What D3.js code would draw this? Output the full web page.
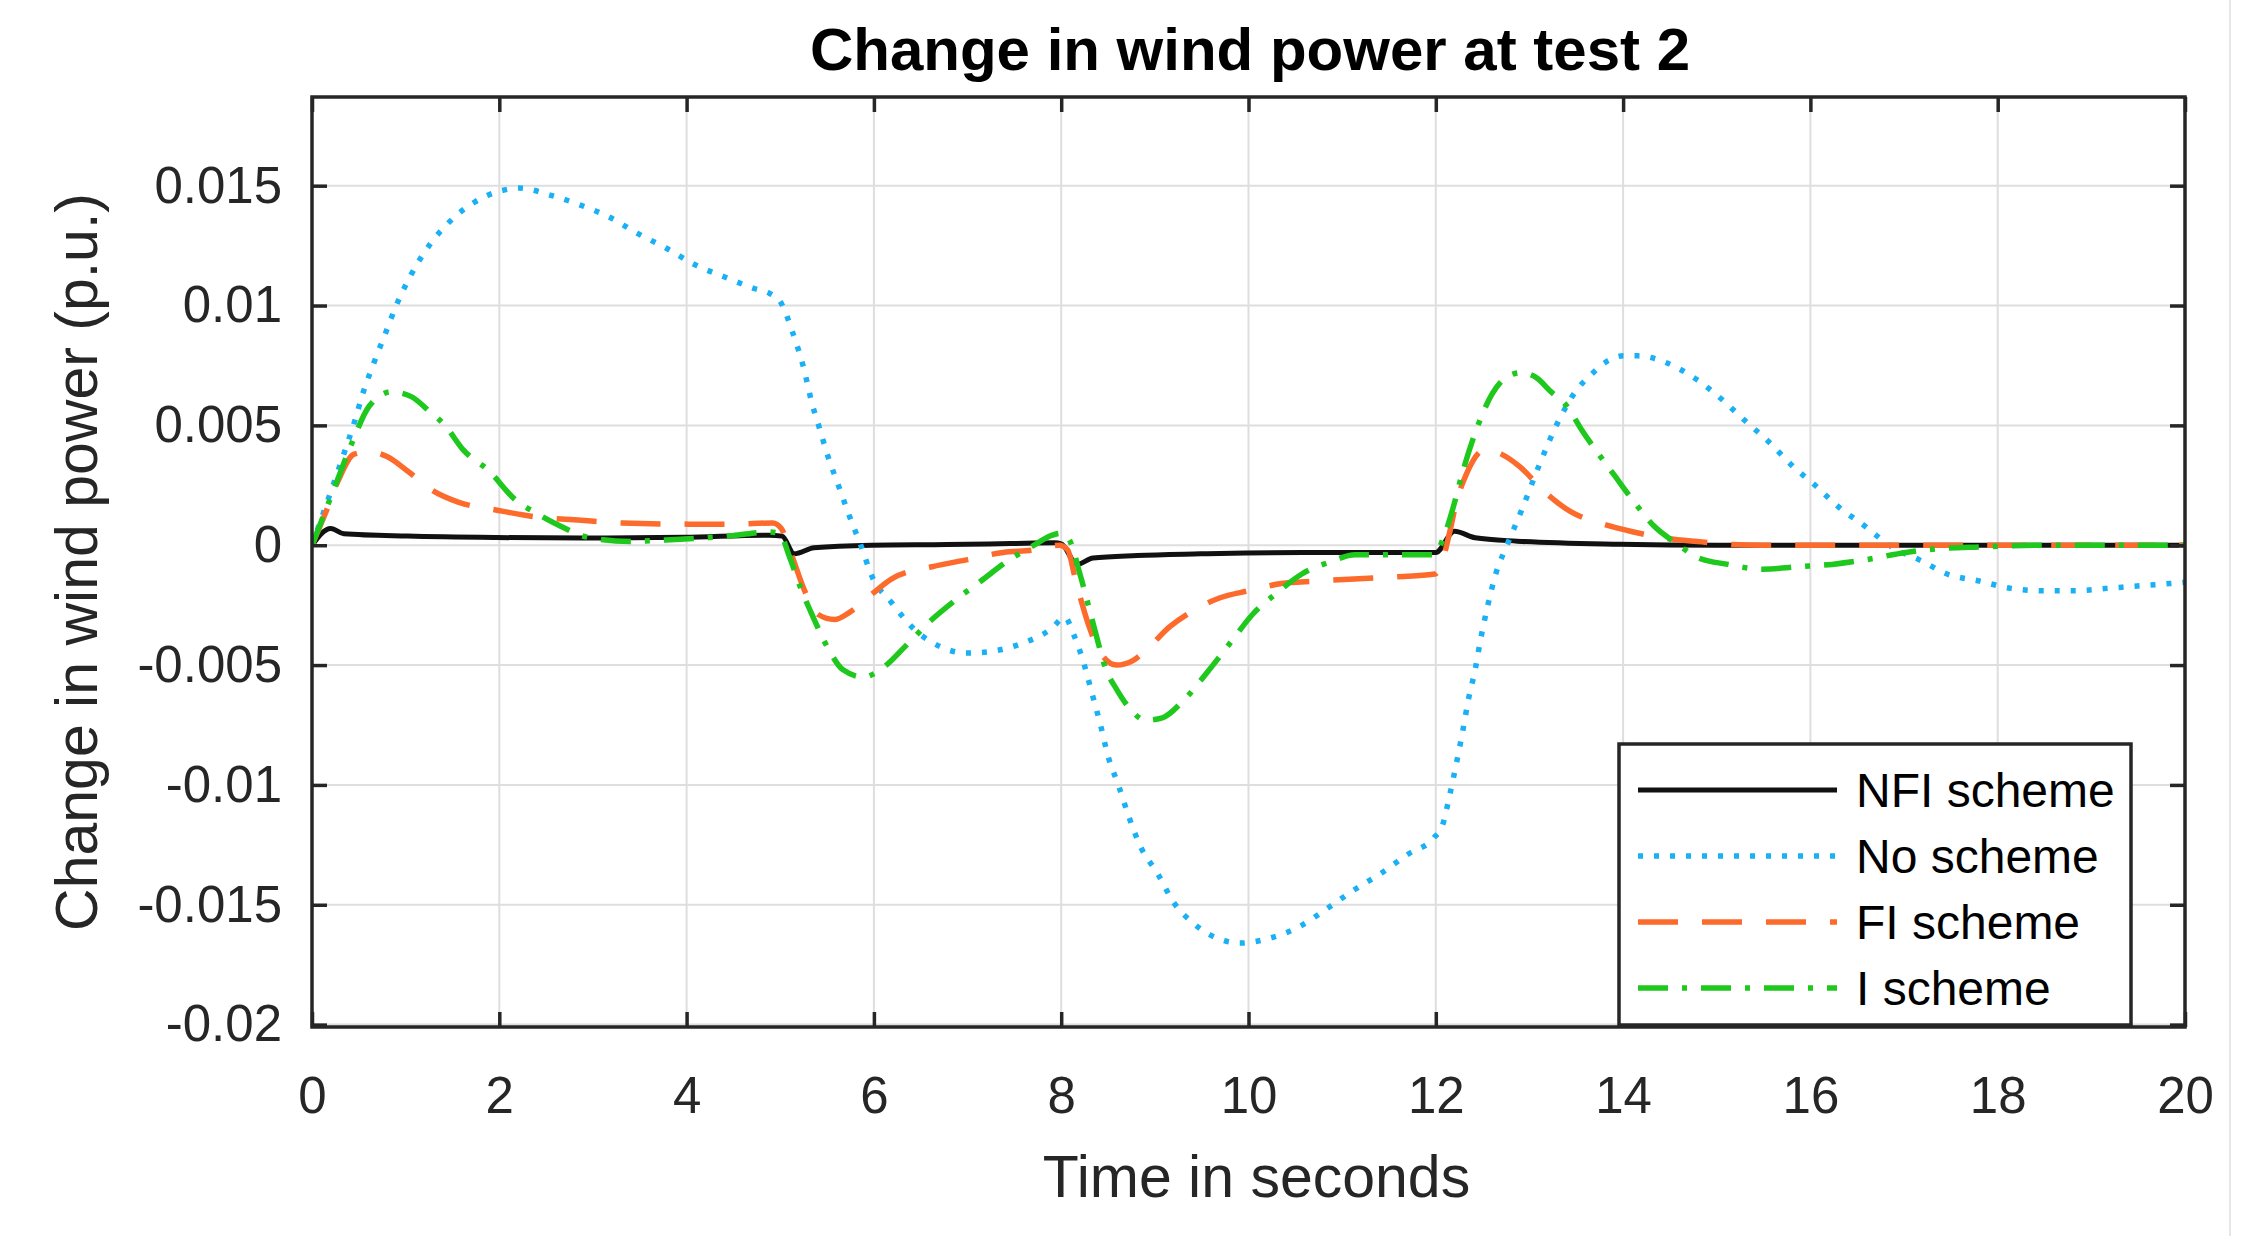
<!DOCTYPE html>
<html>
<head>
<meta charset="utf-8">
<script src="https://cdn.jsdelivr.net/npm/d3@7"></script>
<style>
  html, body { margin: 0; padding: 0; background: #fff; }
  svg { display: block; font-family: "Liberation Sans", Arial, Helvetica, sans-serif; }
</style>
</head>
<body>
<svg id="chart" width="2247" height="1236"></svg>
<script>
// ---------------- DATA ----------------
const chartTitle = "Change in wind power at test 2";
const xLabel = "Time in seconds";
const yLabel = "Change in wind power (p.u.)";

const xTicks = [0, 2, 4, 6, 8, 10, 12, 14, 16, 18, 20];
const xTickLabels = ["0", "2", "4", "6", "8", "10", "12", "14", "16", "18", "20"];
const yTicks = [0.015, 0.01, 0.005, 0, -0.005, -0.01, -0.015, -0.02];
const yTickLabels = ["0.015", "0.01", "0.005", "0", "-0.005", "-0.01", "-0.015", "-0.02"];

const seriesNames = ["NFI scheme", "No scheme", "FI scheme", "I scheme"];

// [time (s), change in wind power (p.u.)]
const nfiScheme = [[0,0],[0.2,0.0007],[0.34,0.00048],[1.02,0.00038],[1.97,0.00032],[2.98,0.0003],[3.97,0.00033],[4.88,0.00042],[5.02,0.00038],[5.15,-0.00036],[5.36,-0.00011],[5.97,0],[6.78,0.00003],[7.46,0.00007],[7.93,0.0001],[8.0,0.00006],[8.17,-0.0008],[8.34,-0.00053],[8.81,-0.00043],[9.49,-0.00036],[9.97,-0.00032],[10.58,-0.0003],[11.3,-0.0003],[12.0,-0.0003],[12.2,0.00058],[12.42,0.00031],[12.87,0.00017],[13.97,0.00004],[15,0],[20,0]];

const noScheme = [[0,0],[0.33,0.0037],[0.45,0.0051],[0.54,0.0063],[0.66,0.0076],[0.78,0.0088],[0.91,0.0101],[1.06,0.0113],[1.25,0.0125],[1.47,0.0135],[1.73,0.0143],[2.03,0.0148],[2.21,0.0149],[2.55,0.0146],[2.86,0.0142],[3.17,0.0137],[3.48,0.0130],[3.78,0.0124],[4.09,0.0117],[4.40,0.0112],[4.73,0.0107],[4.89,0.0105],[5.01,0.0101],[5.13,0.0089],[5.25,0.0074],[5.34,0.0059],[5.41,0.0050],[5.51,0.0037],[5.63,0.0024],[5.74,0.0012],[5.86,0],[5.98,-0.0013],[6.19,-0.0024],[6.43,-0.0035],[6.69,-0.0042],[7.0,-0.0045],[7.3,-0.0044],[7.58,-0.0041],[7.89,-0.0035],[8.04,-0.0030],[8.13,-0.0037],[8.24,-0.0049],[8.33,-0.0062],[8.42,-0.0075],[8.5,-0.0088],[8.61,-0.0100],[8.72,-0.0113],[8.85,-0.0126],[9.03,-0.0137],[9.2,-0.0149],[9.42,-0.0158],[9.74,-0.0165],[9.91,-0.0166],[10.22,-0.0164],[10.55,-0.0159],[10.86,-0.0151],[11.12,-0.0144],[11.41,-0.0137],[11.7,-0.0129],[11.98,-0.0122],[12.07,-0.0117],[12.15,-0.0104],[12.22,-0.0091],[12.29,-0.0077],[12.35,-0.0064],[12.42,-0.0052],[12.48,-0.0039],[12.55,-0.0026],[12.64,-0.0012],[12.76,0],[12.91,0.0014],[13.1,0.0033],[13.3,0.0051],[13.49,0.0064],[13.68,0.0072],[13.84,0.0077],[14.0,0.0079],[14.16,0.0079],[14.47,0.0076],[14.79,0.0069],[15.05,0.0061],[15.3,0.0052],[15.56,0.0043],[15.81,0.0033],[16.05,0.0025],[16.3,0.0016],[16.58,0.0008],[16.74,0.0003],[16.88,-0.0001],[17.16,-0.0006],[17.46,-0.0012],[17.81,-0.0015],[18.14,-0.0018],[18.49,-0.0019],[18.81,-0.0019],[19.16,-0.0018],[19.49,-0.0017],[19.84,-0.0016],[20,-0.00155]];

const fiScheme = [[0,0],[0.14,0.0013],[0.28,0.0027],[0.45,0.0038],[0.61,0.0039],[0.8,0.0037],[1.02,0.0031],[1.28,0.0023],[1.56,0.0018],[1.99,0.00145],[2.36,0.0012],[2.84,0.00105],[3.31,0.00093],[4.02,0.00088],[4.49,0.00088],[4.92,0.00093],[5.01,0.0007],[5.13,-0.0005],[5.25,-0.0018],[5.41,-0.0029],[5.58,-0.0031],[5.74,-0.0028],[5.96,-0.0021],[6.19,-0.0014],[6.62,-0.0009],[7.0,-0.0006],[7.38,-0.0003],[7.71,-0.0002],[7.98,0],[8.07,-0.0002],[8.15,-0.0014],[8.29,-0.0033],[8.42,-0.0045],[8.59,-0.0050],[8.77,-0.0048],[8.95,-0.0042],[9.16,-0.0034],[9.38,-0.0028],[9.69,-0.0022],[10.0,-0.0019],[10.35,-0.0016],[10.7,-0.0015],[11.18,-0.0014],[11.66,-0.0013],[11.99,-0.0012],[12.05,-0.0009],[12.14,0.0004],[12.22,0.0018],[12.33,0.0030],[12.53,0.0040],[12.7,0.0038],[12.89,0.0033],[13.17,0.0022],[13.44,0.0014],[13.77,0.0009],[14.1,0.00056],[14.47,0.00028],[14.84,0.00014],[15.12,0.00004],[15.5,0],[20,0]];

const iScheme = [[0,0],[0.24,0.0024],[0.43,0.0043],[0.61,0.0058],[0.85,0.0064],[1.06,0.0062],[1.25,0.0056],[1.42,0.0050],[1.61,0.0040],[1.89,0.0031],[2.17,0.0019],[2.41,0.0013],[2.65,0.0008],[2.98,0.0003],[3.4,0.00016],[3.78,0.00022],[4.16,0.0003],[4.49,0.0004],[4.87,0.00055],[4.99,0.0005],[5.1,-0.0005],[5.22,-0.0018],[5.34,-0.0029],[5.51,-0.0043],[5.67,-0.0052],[5.89,-0.0055],[6.1,-0.0051],[6.34,-0.0042],[6.62,-0.0031],[6.9,-0.0022],[7.14,-0.0015],[7.45,-0.0006],[7.71,0],[7.89,0.0004],[8.0,0.0005],[8.09,0.0002],[8.2,-0.0012],[8.35,-0.0034],[8.48,-0.0052],[8.59,-0.0060],[8.73,-0.0068],[8.9,-0.0073],[9.08,-0.0072],[9.3,-0.0065],[9.56,-0.0053],[9.82,-0.0040],[10.04,-0.0029],[10.3,-0.0020],[10.57,-0.0012],[10.87,-0.0007],[11.14,-0.0004],[11.58,-0.0004],[11.98,-0.0004],[12.09,0.0004],[12.18,0.0015],[12.29,0.0031],[12.45,0.0050],[12.6,0.0063],[12.75,0.0070],[12.91,0.0072],[13.07,0.0070],[13.23,0.0064],[13.4,0.0058],[13.56,0.0048],[13.72,0.0039],[13.91,0.0029],[14.1,0.0019],[14.33,0.0008],[14.56,0.0001],[14.79,-0.0005],[15.12,-0.0008],[15.49,-0.0010],[15.86,-0.0009],[16.23,-0.0008],[16.6,-0.0006],[17.02,-0.0003],[17.35,-0.00015],[17.81,-0.00007],[18.5,0],[20,0]];

// ---------------- LAYOUT / STYLE ----------------
const W = 2247, H = 1236;
const plot = { left: 312, right: 2185, top: 97, bottom: 1027 };
const xDomain = [0, 20];
const yDomain = [-0.0201, 0.0187];

const styles = [
  { color: "#111111", width: 5, dash: null, cap: "butt" },
  { color: "#1ab0f5", width: 5.5, dash: "5 11", cap: "butt" },
  { color: "#fc6a2c", width: 5.5, dash: "40 24", cap: "butt" },
  { color: "#1fc81c", width: 5.5, dash: "30 14 5 14", cap: "butt" }
];
const seriesData = [nfiScheme, noScheme, fiScheme, iScheme];

const svg = d3.select("#chart");
svg.append("rect").attr("width", W).attr("height", H).attr("fill", "#fff");

// faint image border line at the right
svg.append("line").attr("x1", 2230).attr("x2", 2230).attr("y1", 0).attr("y2", H)
  .attr("stroke", "#e6e6e6").attr("stroke-width", 2);

const x = d3.scaleLinear().domain(xDomain).range([plot.left, plot.right]);
const y = d3.scaleLinear().domain(yDomain).range([plot.bottom, plot.top]);

// grid
const grid = svg.append("g");
grid.selectAll("line.gx").data(xTicks.slice(1, -1)).enter().append("line")
  .attr("x1", d => x(d)).attr("x2", d => x(d))
  .attr("y1", plot.top).attr("y2", plot.bottom)
  .attr("stroke", "#dedede").attr("stroke-width", 2);
grid.selectAll("line.gy").data(yTicks).enter().append("line")
  .attr("x1", plot.left).attr("x2", plot.right)
  .attr("y1", d => y(d)).attr("y2", d => y(d))
  .attr("stroke", "#dedede").attr("stroke-width", 2);

// clip
svg.append("clipPath").attr("id", "clip").append("rect")
  .attr("x", plot.left).attr("y", plot.top)
  .attr("width", plot.right - plot.left).attr("height", plot.bottom - plot.top);

const line = d3.line().x(d => x(d[0])).y(d => y(d[1])).curve(d3.curveMonotoneX);
const lines = svg.append("g").attr("clip-path", "url(#clip)");
seriesData.forEach((data, i) => {
  const s = styles[i];
  lines.append("path").datum(data)
    .attr("d", line)
    .attr("fill", "none")
    .attr("stroke", s.color)
    .attr("stroke-width", s.width)
    .attr("stroke-linecap", s.cap)
    .attr("stroke-linejoin", "round")
    .attr("stroke-dasharray", s.dash);
});

// axes
const tickFont = 51;
const xAxis = d3.axisBottom(x).tickValues(xTicks).tickSizeInner(-15).tickSizeOuter(0)
  .tickPadding(50).tickFormat((d, i) => xTickLabels[i]);
const yAxis = d3.axisLeft(y).tickValues(yTicks).tickSizeInner(-15).tickSizeOuter(0)
  .tickPadding(30).tickFormat((d, i) => yTickLabels[i]);
const xAxisTop = d3.axisTop(x).tickValues(xTicks).tickSizeInner(-15).tickSizeOuter(0).tickFormat("");
const yAxisRight = d3.axisRight(y).tickValues(yTicks).tickSizeInner(-15).tickSizeOuter(0).tickFormat("");

function styleAxis(g) {
  g.select(".domain").remove();
  g.selectAll(".tick line").attr("stroke", "#262626").attr("stroke-width", 3.5);
  g.selectAll(".tick text").attr("fill", "#262626")
    .style("font-size", tickFont + "px")
    .style("font-family", '"Liberation Sans", Arial, Helvetica, sans-serif');
}
svg.append("g").attr("transform", `translate(0,${plot.bottom})`).call(xAxis).call(styleAxis);
svg.append("g").attr("transform", `translate(${plot.left},0)`).call(yAxis).call(styleAxis);
svg.append("g").attr("transform", `translate(0,${plot.top})`).call(xAxisTop).call(styleAxis);
svg.append("g").attr("transform", `translate(${plot.right},0)`).call(yAxisRight).call(styleAxis);

// frame
svg.append("rect")
  .attr("x", plot.left).attr("y", plot.top)
  .attr("width", plot.right - plot.left).attr("height", plot.bottom - plot.top)
  .attr("fill", "none").attr("stroke", "#262626").attr("stroke-width", 3.5);

// title & labels
svg.append("text").attr("x", 1250).attr("y", 70)
  .attr("text-anchor", "middle").attr("font-weight", "bold")
  .style("font-size", "60px").attr("fill", "#000").text(chartTitle);
svg.append("text").attr("x", (plot.left + plot.right) / 2 + 8).attr("y", 1197)
  .attr("text-anchor", "middle").style("font-size", "59px").attr("fill", "#262626").text(xLabel);
svg.append("text")
  .attr("transform", `translate(97,${(plot.top + plot.bottom) / 2}) rotate(-90)`)
  .attr("text-anchor", "middle").style("font-size", "59px").attr("fill", "#262626").text(yLabel);

// legend
const leg = { left: 1619, top: 744, right: 2131, bottom: 1025 };
const legG = svg.append("g");
legG.append("rect").attr("x", leg.left).attr("y", leg.top)
  .attr("width", leg.right - leg.left).attr("height", leg.bottom - leg.top)
  .attr("fill", "#fff").attr("stroke", "#262626").attr("stroke-width", 3.5);
const rowY = [790, 856, 922, 988];
seriesNames.forEach((name, i) => {
  const s = styles[i];
  legG.append("line").attr("x1", 1638).attr("x2", 1837)
    .attr("y1", rowY[i]).attr("y2", rowY[i])
    .attr("stroke", s.color).attr("stroke-width", s.width)
    .attr("stroke-linecap", s.cap).attr("stroke-dasharray", s.dash);
  legG.append("text").attr("x", 1856).attr("y", rowY[i]).attr("dy", "0.36em")
    .style("font-size", "48px").attr("fill", "#000").text(name);
});
</script>
</body>
</html>
